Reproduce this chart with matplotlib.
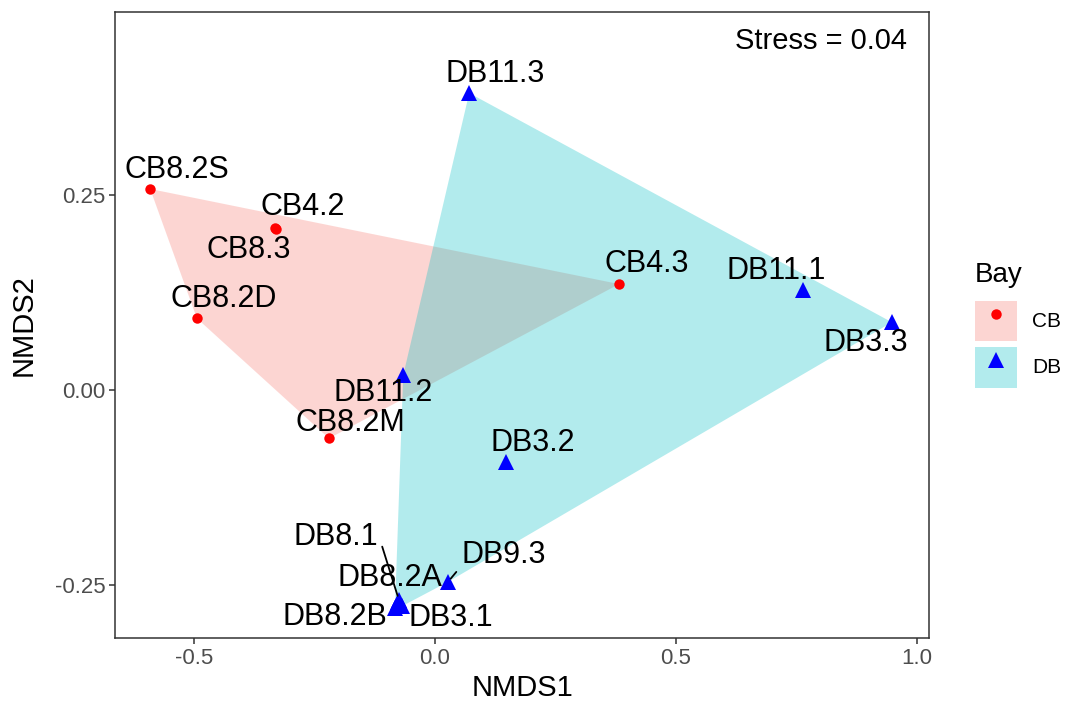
import matplotlib
matplotlib.use("Agg")
import matplotlib.pyplot as plt
from matplotlib.patches import Polygon, Patch
from matplotlib.lines import Line2D
from matplotlib.legend_handler import HandlerTuple

plt.rcParams["font.family"] = ["Liberation Sans", "DejaVu Sans"]

# NMDS scores
samples = ["CB8.2S", "CB4.2", "CB8.3", "CB8.2D", "CB4.3", "CB8.2M",
           "DB11.3", "DB11.1", "DB3.3", "DB11.2", "DB3.2", "DB9.3",
           "DB8.1", "DB8.2A", "DB8.2B", "DB3.1"]
bay = ["CB"] * 6 + ["DB"] * 10
nmds1 = [-0.591, -0.332, -0.330, -0.494, 0.382, -0.220,
         0.071, 0.763, 0.948, -0.066, 0.147, 0.027,
         -0.075, -0.077, -0.083, -0.068]
nmds2 = [0.258, 0.208, 0.207, 0.092, 0.136, -0.062,
         0.381, 0.129, 0.087, 0.019, -0.092, -0.246,
         -0.269, -0.272, -0.279, -0.277]
stress = 0.04

groups = ["CB", "DB"]
point_colors = {"CB": "#FF0000", "DB": "#0000FF"}
fill_colors = {"CB": "#F8766D", "DB": "#00BFC4"}
markers = {"CB": "o", "DB": "^"}
marker_sizes = {"CB": 7.5, "DB": 11}

# label placement (pixels from the point), mimicking ggrepel output
label_offsets = {
    "CB8.2S": (27, 19), "CB4.2": (28, 21), "CB8.3": (-27, -21),
    "CB8.2D": (27, 19), "CB4.3": (28, 20), "CB8.2M": (21, 15),
    "DB11.3": (26, 19), "DB11.1": (-27, 19), "DB3.3": (-26, -21),
    "DB11.2": (-20, -18), "DB3.2": (27, 19), "DB9.3": (56, 27),
    "DB8.1": (-63, 63), "DB8.2A": (-8, 24), "DB8.2B": (-60, -9),
    "DB3.1": (49, -12),
}
segments = {"DB9.3": (0.0, 0.15), "DB8.1": (1.0, 0.6)}


def convex_hull(pts):
    pts = sorted(set(pts))
    if len(pts) < 3:
        return pts

    def cross(o, a, b):
        return (a[0] - o[0]) * (b[1] - o[1]) - (a[1] - o[1]) * (b[0] - o[0])

    lower, upper = [], []
    for p in pts:
        while len(lower) >= 2 and cross(lower[-2], lower[-1], p) <= 0:
            lower.pop()
        lower.append(p)
    for p in reversed(pts):
        while len(upper) >= 2 and cross(upper[-2], upper[-1], p) <= 0:
            upper.pop()
        upper.append(p)
    return lower[:-1] + upper[:-1]


fig = plt.figure(figsize=(10.69, 7.06), dpi=100)
ax = fig.add_axes([115 / 1069, 1 - 638 / 706, (929 - 115) / 1069, (638 - 12) / 706])

for g in groups:
    pts = [(x, y) for x, y, b in zip(nmds1, nmds2, bay) if b == g]
    hull = convex_hull(pts)
    ax.add_patch(Polygon(hull, closed=True, facecolor=fill_colors[g],
                         alpha=0.3, edgecolor="none", zorder=1))

for g in groups:
    xs = [x for x, b in zip(nmds1, bay) if b == g]
    ys = [y for y, b in zip(nmds2, bay) if b == g]
    ax.plot(xs, ys, linestyle="none", marker=markers[g], markersize=marker_sizes[g],
            color=point_colors[g], markeredgewidth=0, zorder=3)

for name, x, y in zip(samples, nmds1, nmds2):
    dx, dy = label_offsets[name]
    arrow = None
    if name in segments:
        arrow = dict(arrowstyle="-", color="black", lw=1.3, shrinkA=3, shrinkB=3,
                     relpos=segments[name])
    ax.annotate(name, (x, y), xytext=(dx, dy), textcoords="offset pixels",
                ha="center", va="center", fontsize=22, color="black",
                arrowprops=arrow, zorder=4)

ax.text(0.973, 0.954, f"Stress = {stress:.2f}", transform=ax.transAxes,
        ha="right", va="center", fontsize=21, color="black")

ax.set_xlim(-0.664, 1.025)
ax.set_ylim(-0.318, 0.485)
ax.set_xticks([-0.5, 0.0, 0.5, 1.0])
ax.set_xticklabels(["-0.5", "0.0", "0.5", "1.0"])
ax.set_yticks([-0.25, 0.0, 0.25])
ax.set_yticklabels(["-0.25", "0.00", "0.25"])
ax.tick_params(axis="both", length=4, width=1.1, color="#333333",
               labelcolor="#4D4D4D", labelsize=16, pad=3)
for sp in ax.spines.values():
    sp.set_color("#333333")
    sp.set_linewidth(1.1)
ax.set_xlabel("NMDS1", fontsize=21, labelpad=4)
ax.set_ylabel("NMDS2", fontsize=21, labelpad=12)

handles = []
for g in groups:
    handles.append((Patch(facecolor=fill_colors[g], alpha=0.3, edgecolor="none"),
                    Line2D([], [], linestyle="none", marker=markers[g],
                           markersize=marker_sizes[g], color=point_colors[g],
                           markeredgewidth=0)))
leg = fig.legend(handles, groups, handler_map={tuple: HandlerTuple(ndivide=1, pad=0)},
                 loc="upper left", bbox_to_anchor=(975 / 1069, 1 - 262 / 706),
                 frameon=False, fontsize=15, title="Bay", title_fontsize=20,
                 handlelength=2.0, handleheight=2.65, labelspacing=0.25,
                 handletextpad=0.75, borderpad=0, borderaxespad=0, alignment="left")
leg._legend_box.sep = 9

fig.savefig("out.png", dpi=100)
